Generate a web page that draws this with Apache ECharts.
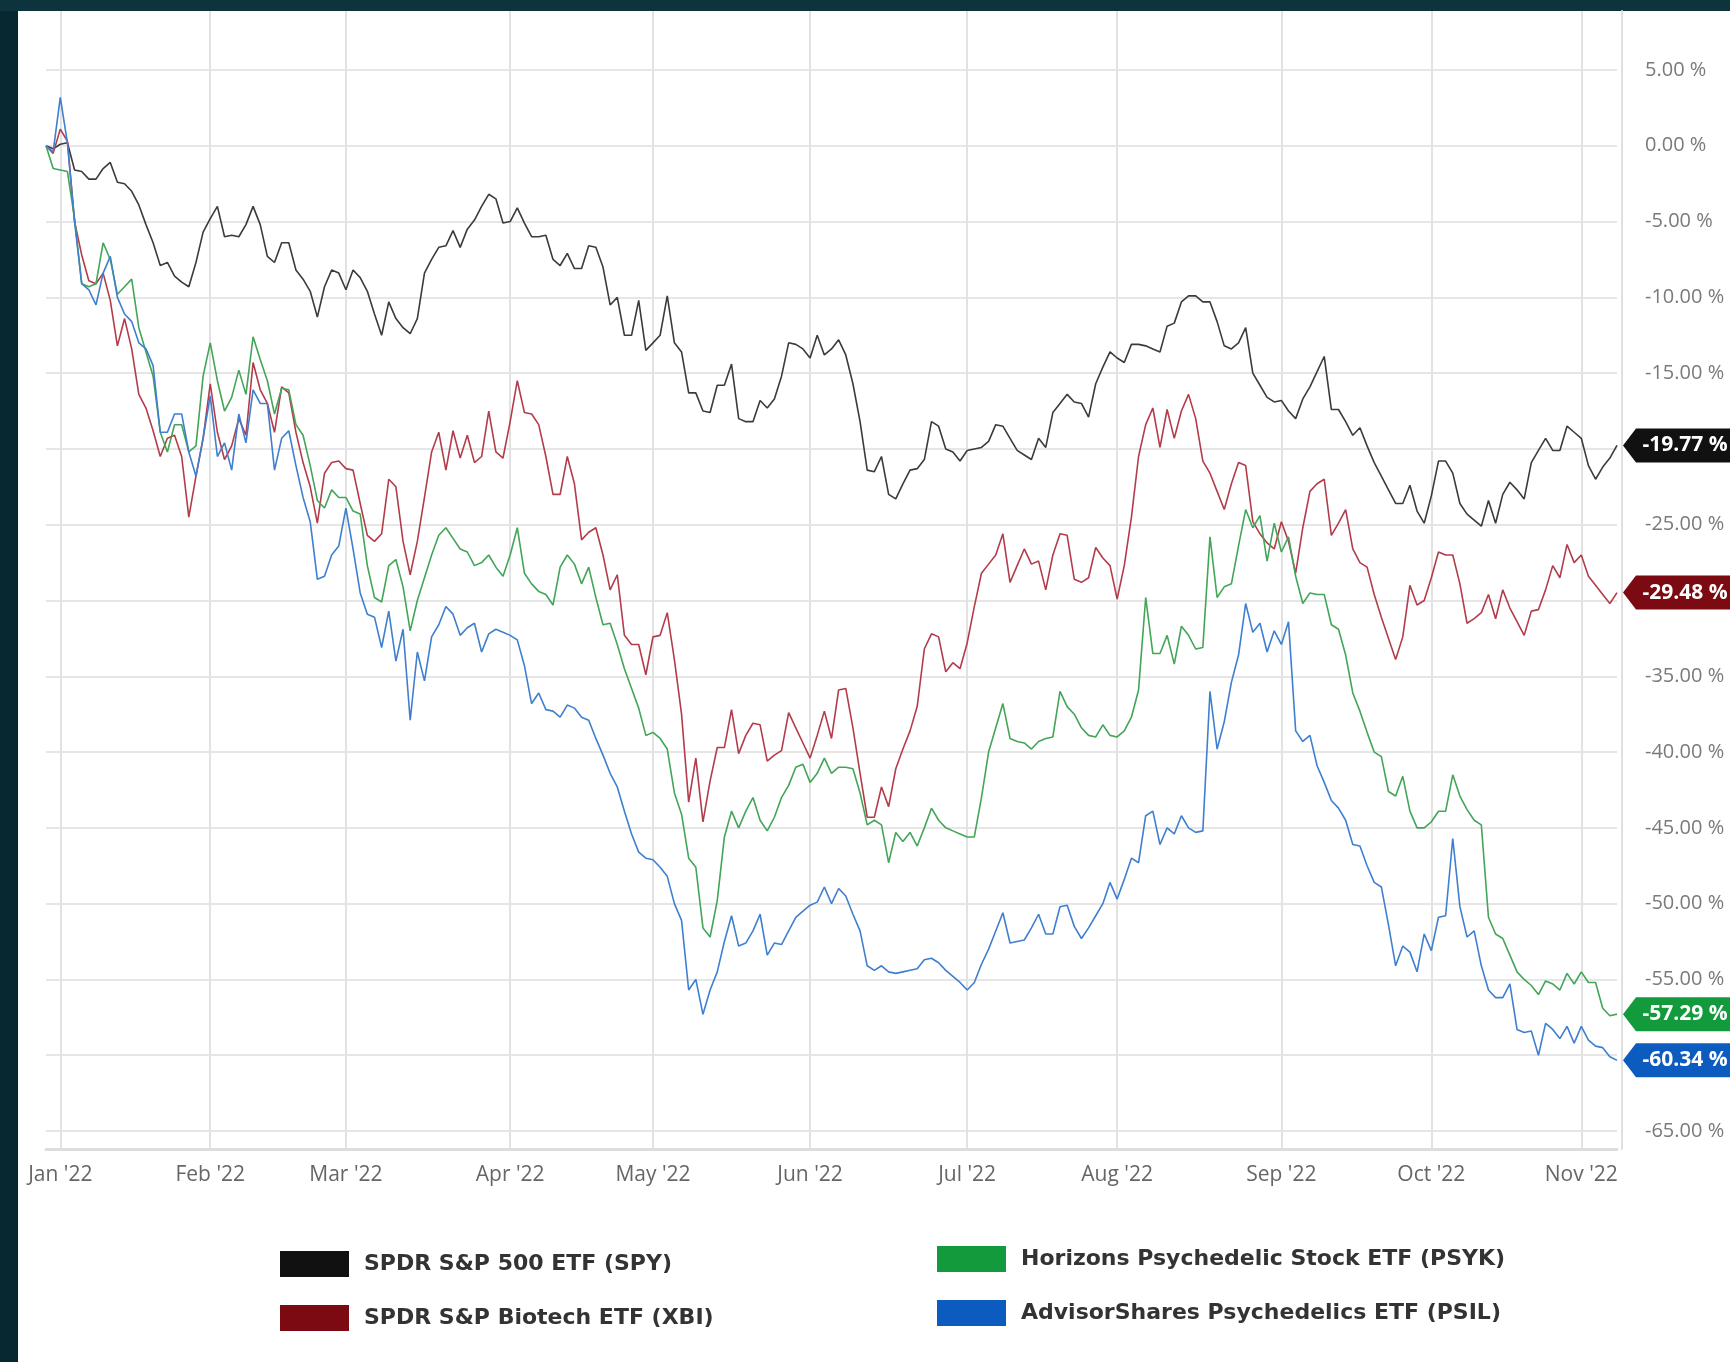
<!DOCTYPE html>
<html>
<head>
<meta charset="utf-8">
<title>Psychedelic ETFs vs SPY and XBI, 2022</title>
<script src="https://cdn.jsdelivr.net/npm/echarts@6/dist/echarts.min.js"></script>
<style>
  html, body { margin: 0; padding: 0; background: #ffffff; }
  #chart { width: 1730px; height: 1362px; }
</style>
</head>
<body>
<div id="chart"></div>
<script>
const closedDays = ["2022-02-21", "2022-04-15", "2022-09-05"];
const monthNames = ["Jan", "Feb", "Mar", "Apr", "May", "Jun", "Jul", "Aug", "Sep", "Oct", "Nov", "Dec"];
const seriesNames = [
  "SPDR S&P 500 ETF (SPY)",
  "SPDR S&P Biotech ETF (XBI)",
  "Horizons Psychedelic Stock ETF (PSYK)",
  "AdvisorShares Psychedelics ETF (PSIL)",
];
const lineColors = ["#3b3b3b", "#b33c4b", "#43a558", "#3f7fcf"];
const tagColors = ["#111111", "#7c0a12", "#139a3c", "#0c5cc0"];

// % change since Dec 30 2021, one value per trading day, month by month
const spyValues = [
  0, -0.2,
  0.1, 0.2, -1.6, -1.7, -2.2, -2.2, -1.5, -1.1, -2.4, -2.5, -3.0, -3.9, -5.2, -6.4, -7.9, -7.7, -8.6, -9.0, -9.3, -7.7, -5.7,
  -4.8, -4.0, -6.0, -5.9, -6.0, -5.2, -4.0, -5.2, -7.3, -7.7, -6.4, -6.4, -8.2, -8.8, -9.6, -11.3, -9.3, -8.2, -8.4,
  -9.5, -8.2, -8.7, -9.6, -11.1, -12.5, -10.3, -11.4, -12.0, -12.4, -11.4, -8.4, -7.5, -6.7, -6.6, -5.6, -6.7, -5.5, -4.9, -4.0, -3.2, -3.5, -5.1,
  -5.0, -4.1, -5.1, -6.0, -6.0, -5.9, -7.5, -7.9, -7.1, -8.1, -8.1, -6.6, -6.7, -8.0, -10.5, -10.0, -12.5, -12.5, -10.2, -13.5,
  -13.0, -12.5, -9.9, -13.0, -13.6, -16.3, -16.3, -17.5, -17.6, -15.8, -15.8, -14.4, -18.0, -18.2, -18.2, -16.8, -17.3, -16.7, -15.2, -13.0, -13.1, -13.4,
  -14.0, -12.5, -13.8, -13.4, -12.8, -13.8, -15.7, -18.2, -21.4, -21.5, -20.5, -23.0, -23.3, -22.3, -21.4, -21.3, -20.7, -18.2, -18.5, -20.0, -20.2, -20.8,
  -20.1, -20.0, -19.9, -19.5, -18.4, -18.5, -19.3, -20.1, -20.4, -20.7, -19.3, -19.9, -17.6, -17.0, -16.4, -16.9, -17.0, -17.9, -15.7, -14.6, -13.6,
  -14.0, -14.3, -13.1, -13.1, -13.2, -13.4, -13.6, -11.9, -11.7, -10.3, -9.9, -9.9, -10.3, -10.3, -11.6, -13.2, -13.4, -13.0, -12.0, -15.0, -15.8, -16.6, -16.9,
  -16.8, -17.5, -18.0, -16.7, -15.9, -14.9, -13.9, -17.4, -17.4, -18.2, -19.1, -18.6, -19.8, -20.9, -21.8, -22.7, -23.6, -23.6, -22.4, -24.1, -24.9,
  -23.1, -20.8, -20.8, -21.6, -23.6, -24.3, -24.7, -25.1, -23.4, -24.9, -23.0, -22.2, -22.7, -23.3, -20.9, -20.1, -19.3, -20.1, -20.1, -18.5, -18.9,
  -19.3, -21.1, -22.0, -21.2, -20.6, -19.77,
];
const xbiValues = [
  0, -0.5,
  1.1, 0.3, -5.0, -7.2, -8.9, -9.1, -8.4, -10.2, -13.2, -11.4, -13.4, -16.4, -17.3, -18.8, -20.5, -19.3, -19.1, -20.5, -24.5, -21.8, -19.3,
  -15.7, -18.9, -20.7, -19.8, -18.0, -19.1, -14.3, -16.1, -17.0, -18.9, -15.9, -16.3, -18.9, -20.9, -22.5, -24.9, -21.6, -20.9, -20.8,
  -21.3, -21.4, -23.6, -25.7, -26.1, -25.6, -22.0, -22.5, -26.1, -28.3, -26.1, -23.2, -20.2, -18.9, -21.4, -18.8, -20.6, -19.1, -20.9, -20.5, -17.5, -20.2, -20.6,
  -18.2, -15.5, -17.6, -17.7, -18.4, -20.5, -23.0, -23.0, -20.5, -22.3, -26.0, -25.5, -25.2, -27.0, -29.3, -28.3, -32.3, -32.9, -32.9, -34.9,
  -32.4, -32.3, -30.8, -33.9, -37.5, -43.3, -40.4, -44.6, -41.9, -39.7, -39.7, -37.2, -40.1, -38.9, -38.1, -38.2, -40.6, -40.2, -39.9, -37.4, -38.4, -39.4,
  -40.4, -38.9, -37.3, -39.1, -35.9, -35.8, -38.4, -41.4, -44.3, -44.3, -42.3, -43.6, -41.1, -39.8, -38.6, -37.0, -33.2, -32.2, -32.4, -34.7, -34.1, -34.5,
  -32.8, -30.4, -28.2, -27.6, -27.0, -25.6, -28.8, -27.7, -26.6, -27.6, -27.4, -29.3, -27.0, -25.6, -25.7, -28.6, -28.8, -28.5, -26.5, -27.2, -27.7,
  -29.9, -27.7, -24.5, -20.5, -18.4, -17.3, -19.9, -17.4, -19.3, -17.5, -16.4, -18.0, -20.8, -21.6, -22.8, -24.0, -22.3, -20.9, -21.1, -24.8, -25.6, -26.2, -26.6,
  -24.8, -26.1, -28.2, -25.2, -22.8, -22.3, -22.0, -25.7, -24.9, -24.0, -26.6, -27.5, -27.8, -29.6, -31.1, -32.5, -33.9, -32.4, -29.0, -30.3, -30.0,
  -28.5, -26.8, -27.0, -27.0, -28.9, -31.5, -31.2, -30.8, -29.6, -31.2, -29.3, -30.5, -31.4, -32.3, -30.7, -30.6, -29.3, -27.7, -28.5, -26.3, -27.5,
  -27.0, -28.4, -29.0, -29.6, -30.2, -29.48,
];
const psykValues = [
  0, -1.5,
  -1.6, -1.7, -4.8, -9.1, -9.3, -9.1, -6.4, -7.5, -9.8, -9.3, -8.8, -12.0, -13.6, -15.2, -18.9, -20.2, -18.4, -18.4, -20.2, -19.8, -15.2,
  -13.0, -15.5, -17.5, -16.6, -14.8, -16.4, -12.6, -14.1, -15.5, -17.7, -16.0, -16.1, -18.4, -19.1, -21.1, -23.4, -23.9, -22.7, -23.2,
  -23.2, -24.1, -24.3, -27.7, -29.8, -30.1, -27.7, -27.3, -29.1, -32.0, -30.0, -28.5, -27.0, -25.7, -25.2, -25.9, -26.6, -26.8, -27.7, -27.5, -27.0, -27.8, -28.4,
  -27.0, -25.2, -28.2, -28.9, -29.4, -29.6, -30.3, -27.8, -27.0, -27.6, -28.9, -27.8, -29.8, -31.6, -31.5, -32.9, -34.5, -35.8, -37.1, -38.9,
  -38.7, -39.1, -39.8, -42.7, -44.1, -47.0, -47.6, -51.6, -52.2, -49.8, -45.6, -43.9, -45.0, -43.9, -43.0, -44.5, -45.2, -44.3, -43.0, -42.2, -41.0, -40.8,
  -42.0, -41.4, -40.4, -41.4, -41.0, -41.0, -41.1, -42.7, -44.8, -44.5, -44.8, -47.3, -45.3, -45.9, -45.3, -46.2, -45.0, -43.7, -44.5, -45.0, -45.2, -45.4,
  -45.6, -45.6, -43.0, -40.0, -38.4, -36.8, -39.1, -39.3, -39.4, -39.8, -39.3, -39.1, -39.0, -36.0, -37.0, -37.5, -38.4, -38.9, -39.0, -38.2, -38.9,
  -39.0, -38.6, -37.7, -35.9, -29.8, -33.5, -33.5, -32.3, -34.2, -31.7, -32.3, -33.2, -33.1, -25.8, -29.8, -29.1, -28.9, -26.4, -24.0, -25.2, -24.4, -27.4, -24.9,
  -26.8, -25.8, -28.4, -30.2, -29.5, -29.6, -29.6, -31.6, -31.9, -33.6, -36.1, -37.3, -38.7, -40.0, -40.3, -42.6, -42.9, -41.6, -43.9, -45.0, -45.0,
  -44.6, -43.9, -43.9, -41.5, -42.9, -43.8, -44.5, -44.8, -50.9, -52.0, -52.3, -53.4, -54.5, -55.0, -55.4, -56.0, -55.1, -55.3, -55.7, -54.6, -55.3,
  -54.5, -55.2, -55.2, -56.9, -57.4, -57.29,
];
const psilValues = [
  0, -0.4,
  3.2, 0.2, -5.0, -9.1, -9.5, -10.5, -8.4, -7.3, -10.0, -11.1, -11.6, -13.0, -13.4, -14.5, -18.9, -18.9, -17.7, -17.7, -20.2, -21.8, -19.3,
  -16.5, -20.5, -19.6, -21.4, -17.7, -19.6, -16.1, -17.0, -17.0, -21.4, -19.3, -18.8, -21.1, -23.2, -24.8, -28.6, -28.4, -27.0, -26.4,
  -23.9, -26.6, -29.5, -30.9, -31.1, -33.1, -30.7, -34.0, -31.9, -37.9, -33.4, -35.3, -32.4, -31.6, -30.4, -30.9, -32.3, -31.8, -31.5, -33.4, -32.2, -31.9, -32.1,
  -32.3, -32.6, -34.3, -36.8, -36.1, -37.2, -37.3, -37.7, -36.9, -37.1, -37.7, -37.9, -39.1, -40.2, -41.4, -42.3, -43.9, -45.4, -46.6, -47.0,
  -47.1, -47.6, -48.2, -50.0, -51.1, -55.7, -55.0, -57.3, -55.7, -54.5, -52.5, -50.8, -52.8, -52.6, -51.8, -50.7, -53.4, -52.6, -52.7, -51.8, -50.9, -50.5,
  -50.1, -49.9, -48.9, -50.0, -49.0, -49.5, -50.7, -51.8, -54.1, -54.4, -54.1, -54.5, -54.6, -54.5, -54.4, -54.3, -53.7, -53.6, -53.9, -54.4, -54.8, -55.2,
  -55.7, -55.2, -54.0, -53.0, -51.8, -50.6, -52.6, -52.5, -52.4, -51.6, -50.7, -52.0, -52.0, -50.2, -50.1, -51.5, -52.3, -51.6, -50.8, -50.0, -48.6,
  -49.7, -48.4, -47.0, -47.3, -44.2, -43.9, -46.1, -45.0, -45.4, -44.2, -45.0, -45.3, -45.2, -36.0, -39.8, -38.0, -35.4, -33.6, -30.2, -32.1, -31.5, -33.4, -32.0,
  -32.9, -31.4, -38.6, -39.3, -38.9, -40.9, -42.0, -43.2, -43.7, -44.5, -46.1, -46.2, -47.5, -48.6, -48.9, -51.4, -54.1, -52.8, -53.2, -54.5, -52.0,
  -53.1, -50.9, -50.8, -45.7, -50.2, -52.2, -51.8, -54.1, -55.7, -56.2, -56.2, -55.3, -58.3, -58.5, -58.4, -60.0, -57.9, -58.3, -58.9, -58.1, -59.2,
  -58.1, -59.0, -59.4, -59.5, -60.1, -60.34,
];
const allValues = [spyValues, xbiValues, psykValues, psilValues];

const buildDates = () => {
  const dates = [];
  const day = new Date(Date.UTC(2021, 11, 30));
  const end = new Date(Date.UTC(2022, 10, 8));
  while (day <= end) {
    const wd = day.getUTCDay();
    const iso = day.toISOString().slice(0, 10);
    if (wd !== 0 && wd !== 6 && !closedDays.includes(iso)) dates.push(iso);
    day.setUTCDate(day.getUTCDate() + 1);
  }
  return dates;
};
const dates = buildDates();

const isMonthStart = (i) => i > 0 && dates[i].slice(5, 7) !== dates[i - 1].slice(5, 7);
const monthLabel = (d) => `${monthNames[+d.slice(5, 7) - 1]} '${d.slice(2, 4)}`;
const pct = (v) => v.toFixed(2) + " %";
const font = "'Open Sans', 'DejaVu Sans', sans-serif";

const lineSeries = (idx) => {
  const values = allValues[idx];
  const last = values.length - 1;
  return {
    name: seriesNames[idx],
    type: "line",
    xAxisIndex: 0,
    yAxisIndex: 0,
    data: values,
    symbol: "none",
    clip: false,
    lineStyle: { color: lineColors[idx], width: 1.6 },
    itemStyle: { color: tagColors[idx] },
    emphasis: { disabled: true },
    markPoint: {
      symbol: "path://M0,17 L13,0 L120,0 L120,34 L13,34 Z",
      symbolKeepAspect: false,
      symbolSize: [120, 34],
      symbolOffset: [66, 0],
      itemStyle: { color: tagColors[idx] },
      label: {
        show: true,
        position: "inside",
        offset: [2, 0],
        color: "#fff",
        fontWeight: "bold",
        fontSize: 21,
        fontFamily: font,
        formatter: (p) => pct(p.value),
      },
      data: [{ coord: [dates[last], values[last]], value: values[last] }],
    },
  };
};

const legendBlock = (names, left, top) => ({
  data: names.map((n) => ({ name: n, itemStyle: { color: tagColors[seriesNames.indexOf(n)] } })),
  orient: "vertical",
  left,
  top,
  icon: "rect",
  itemWidth: 69,
  itemHeight: 26,
  itemGap: 28,
  selectedMode: false,
  textStyle: {
    fontFamily: "'DejaVu Sans', sans-serif",
    fontWeight: "bold",
    fontSize: 22,
    color: "#333",
    padding: [0, 0, 0, 10],
  },
});

const chart = echarts.init(document.getElementById("chart"));
chart.setOption({
  animation: false,
  backgroundColor: "#ffffff",
  graphic: [
    { type: "rect", left: 0, top: 0, shape: { width: 18, height: 1362 }, style: { fill: "#072830" } },
    { type: "rect", left: 0, top: 0, shape: { width: 1730, height: 11 }, style: { fill: "#0d343c" } },
  ],
  grid: [
    { left: 46, right: 113, top: 70, bottom: 231, outerBoundsMode: "none" },
    { left: 46, right: 113, top: 11, bottom: 213, outerBoundsMode: "none" },
  ],
  legend: [
    legendBlock([seriesNames[0], seriesNames[1]], 275, 1246),
    legendBlock([seriesNames[2], seriesNames[3]], 932, 1241),
  ],
  xAxis: [
    { type: "category", gridIndex: 0, data: dates, boundaryGap: false, show: false },
    {
      type: "category",
      gridIndex: 1,
      data: dates,
      boundaryGap: false,
      axisLine: { show: true, lineStyle: { color: "#dddddd", width: 3 } },
      axisTick: { show: false },
      splitLine: { show: true, interval: (i) => isMonthStart(i), lineStyle: { color: "#e2e2e2", width: 2 } },
      axisLabel: {
        interval: (i) => isMonthStart(i),
        formatter: monthLabel,
        margin: 16,
        color: "#666",
        fontSize: 21,
        fontFamily: font,
      },
    },
  ],
  yAxis: [
    {
      type: "value",
      gridIndex: 0,
      position: "right",
      min: -65,
      max: 5,
      interval: 5,
      axisLine: { show: false },
      axisTick: { show: false },
      splitLine: { lineStyle: { color: "#e6e6e6", width: 2 } },
      axisLabel: { margin: 28, color: "#7a7a7a", fontSize: 20, fontFamily: font, formatter: pct },
    },
    {
      type: "value",
      gridIndex: 1,
      position: "right",
      offset: 5,
      min: 0,
      max: 1,
      axisLine: { show: true, lineStyle: { color: "#e0e0e0", width: 2 } },
      axisTick: { show: false },
      axisLabel: { show: false },
      splitLine: { show: false },
    },
  ],
  series: [0, 1, 2, 3].map(lineSeries),
});
</script>
</body>
</html>
